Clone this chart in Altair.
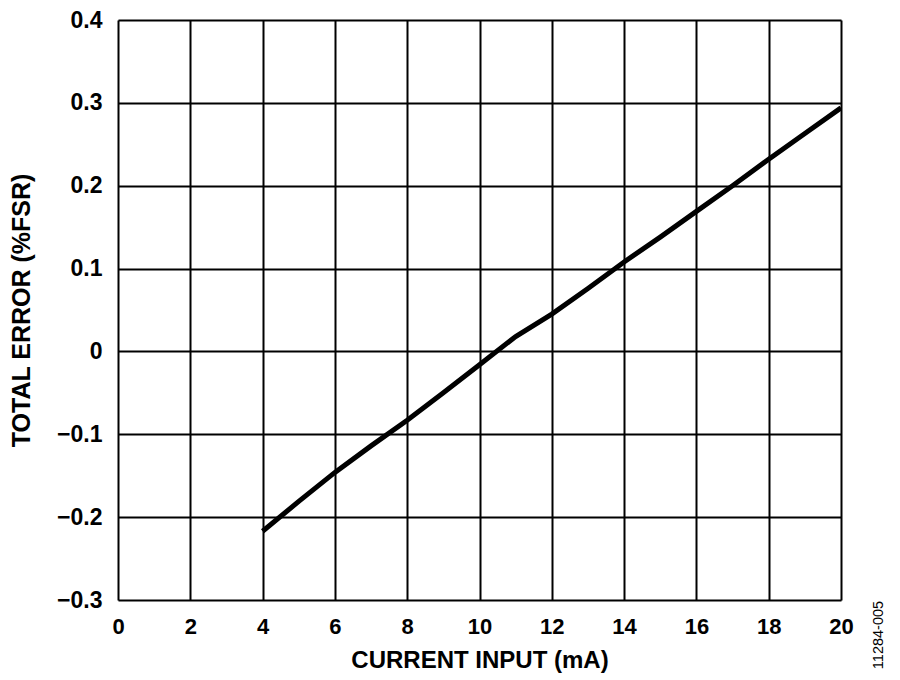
import altair as alt
import pandas as pd

current_ma = [4, 5, 6, 7, 8, 9, 10, 11, 12, 13, 14, 15, 16, 17, 18, 19, 20]
total_error = [-0.217, -0.181, -0.146, -0.114, -0.083, -0.050, -0.016, 0.018,
               0.045, 0.076, 0.108, 0.138, 0.169, 0.200, 0.232, 0.263, 0.294]
x_ticks = [0, 2, 4, 6, 8, 10, 12, 14, 16, 18, 20]
y_ticks = [-0.3, -0.2, -0.1, 0, 0.1, 0.2, 0.3, 0.4]
figure_id = "11284-005"

df = pd.DataFrame({"x": current_ma, "y": total_error})

FONT = "Liberation Sans"

line = alt.Chart(df).mark_line(color="black", strokeWidth=5, clip=True).encode(
    x=alt.X("x:Q", scale=alt.Scale(domain=[0, 20], nice=False),
            axis=alt.Axis(values=x_ticks, title="CURRENT INPUT (mA)", format="d",
                          grid=True, gridColor="black", gridWidth=2, gridOpacity=1,
                          ticks=False, domain=False, labelFlush=False,
                          labelFont=FONT, labelFontSize=22, labelFontWeight="bold",
                          labelColor="black", labelPadding=16,
                          titleFont=FONT, titleFontSize=24, titleFontWeight="bold",
                          titleColor="black", titlePadding=11)),
    y=alt.Y("y:Q", scale=alt.Scale(domain=[-0.3, 0.4], nice=False, zero=False),
            axis=alt.Axis(values=y_ticks, title="TOTAL ERROR (%FSR)", format=".1~f",
                          grid=True, gridColor="black", gridWidth=2, gridOpacity=1,
                          ticks=False, domain=False, labelFlush=False,
                          labelFont=FONT, labelFontSize=23, labelFontWeight="bold",
                          labelColor="black", labelPadding=16,
                          titleFont=FONT, titleFontSize=25, titleFontWeight="bold",
                          titleColor="black", titlePadding=22)),
)

fig_label = alt.Chart(pd.DataFrame({"t": [figure_id]})).mark_text(
    angle=270, font=FONT, fontSize=14.5, color="black", align="center", baseline="middle"
).encode(x=alt.value(761), y=alt.value(615), text="t:N")

chart = alt.layer(line, fig_label).properties(
    width=723, height=580,
    autosize=alt.AutoSizeParams(type="none"),
    padding={"left": 110, "top": 12, "right": 50, "bottom": 74},
).configure_view(stroke="black", strokeWidth=3).configure(background="white")

chart.save("out.html", embed_options={"renderer": "svg", "actions": False})
